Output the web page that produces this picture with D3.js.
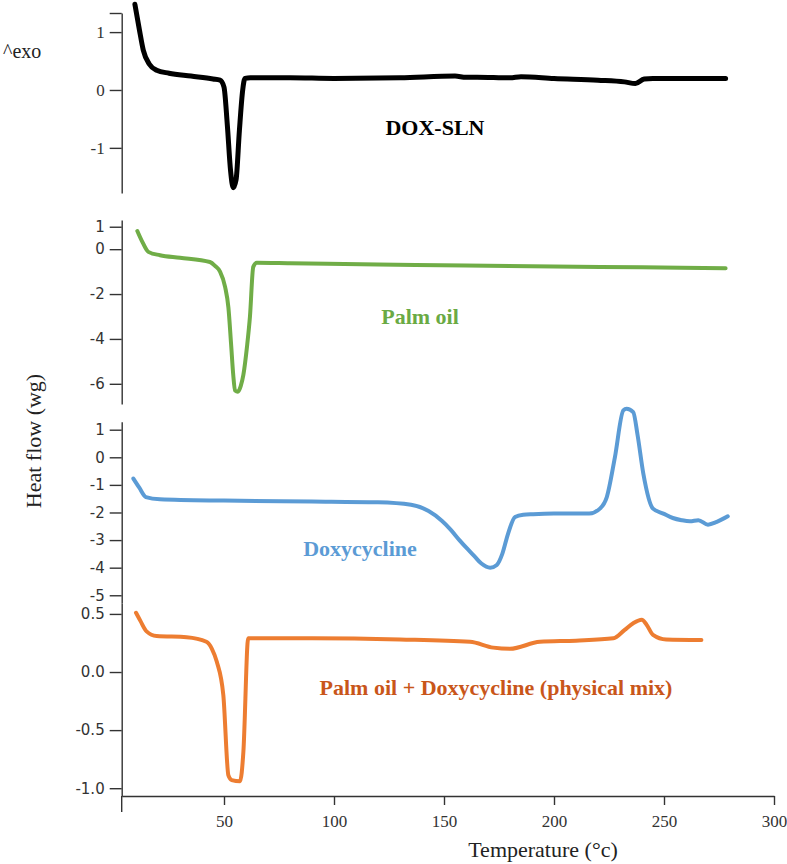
<!DOCTYPE html>
<html lang="en">
<head>
    <meta charset="UTF-8"/>
    <title>DSC thermograms</title>
    <script src="https://d3js.org/d3.v7.min.js"></script>
    <style>
        body { margin: 0; background: #fff; }
        .curve { fill: none; stroke-linejoin: round; stroke-linecap: round; }
        .axis path, .axis line { stroke: #333; stroke-width: 1.4px; }
        .axis text { fill: #333; }
    </style>
</head>
<body>
    <script>
        var w = 787;
        var h = 864;

        // temperatures (°C) and heat flow readings, one pair of arrays per curve
        var doxSlnT = [9.5, 11.5, 13.3, 16, 19.4, 25, 35, 45, 48.2, 50, 51.5, 53, 54.2, 55.5, 57, 58.5, 59.5, 62, 80, 100, 130, 155, 160, 165, 180, 185, 200, 220, 232, 237, 241, 245, 260, 278];
        var doxSlnV = [1.48, 1.05, 0.69, 0.45, 0.34, 0.29, 0.24, 0.19, 0.17, 0.05, -0.6, -1.4, -1.69, -1.55, -0.7, 0.0, 0.2, 0.21, 0.21, 0.2, 0.21, 0.24, 0.22, 0.22, 0.21, 0.23, 0.2, 0.17, 0.14, 0.11, 0.19, 0.2, 0.2, 0.2];

        var palmT = [10.6, 13, 15.6, 20.9, 30, 43.6, 46, 48.2, 50.5, 52, 53.2, 54.2, 55, 56.3, 57.6, 58.8, 60.5, 61.8, 63.3, 64.9, 80, 120, 160, 200, 240, 278];
        var palmV = [0.81, 0.3, -0.12, -0.27, -0.38, -0.57, -0.75, -1.0, -1.68, -2.6, -4.2, -5.6, -6.3, -6.35, -6.1, -5.6, -4.3, -3.0, -0.79, -0.61, -0.63, -0.68, -0.73, -0.77, -0.81, -0.85];

        var doxyT = [8.8, 11.5, 14.5, 20.9, 50, 90, 120, 135, 143, 149, 153, 157, 161, 164, 167, 171, 174, 176.5, 179, 182.3, 186, 190.5, 200, 216, 221, 224, 227.7, 231.5, 233, 236, 238, 240.6, 245, 249.7, 254, 258, 261.8, 265.6, 270, 274, 279];
        var doxyV = [-0.77, -1.1, -1.44, -1.52, -1.57, -1.6, -1.63, -1.72, -1.95, -2.3, -2.62, -3.0, -3.35, -3.6, -3.85, -4.0, -3.9, -3.5, -2.8, -2.16, -2.08, -2.06, -2.04, -2.04, -1.85, -1.44, 0.01, 1.7, 1.76, 1.64, 0.8, -0.59, -1.86, -2.04, -2.2, -2.28, -2.32, -2.28, -2.44, -2.34, -2.14];

        var mixT = [10, 12, 14.8, 19.4, 33, 42, 44.5, 46.7, 49.7, 52, 53.5, 57.3, 58.8, 61, 63, 90, 130, 161.8, 172.4, 180, 193.6, 210, 227, 232, 236, 239.9, 242, 245, 251, 267];
        var mixV = [0.51, 0.44, 0.35, 0.31, 0.3, 0.26, 0.2, 0.09, -0.2, -0.89, -0.93, -0.94, -0.69, 0.29, 0.29, 0.29, 0.28, 0.26, 0.21, 0.2, 0.26, 0.27, 0.29, 0.36, 0.42, 0.45, 0.41, 0.32, 0.28, 0.275];

        var xTicks = [50, 100, 150, 200, 250, 300];

        function intFmt(d) { return String(d); }
        function oneDec(d) { return d.toFixed(1); }

        var panels = [
            { t: doxSlnT, v: doxSlnV, color: "#000000", width: 5, domain: [-1.78, 1.33], range: [193, 13],
              ticks: [1.33, 1, 0, -1], fmt: function(d) { return d === 1.33 ? "" : String(d); },
              font: "Liberation Serif", fs: "17px", label: "DOX-SLN", labelColor: "#000000", lx: 435, ly: 135 },
            { t: palmT, v: palmV, color: "#70ad47", width: 4, domain: [-6.9, 1.3], range: [404, 220],
              ticks: [1, 0, -2, -4, -6], fmt: intFmt,
              font: "DejaVu Sans", fs: "15px", label: "Palm oil", labelColor: "#6aaa44", lx: 420, ly: 324 },
            { t: doxyT, v: doxyV, color: "#5b9bd5", width: 4, domain: [-5.28, 1.29], range: [603, 421.7],
              ticks: [1, 0, -1, -2, -3, -4, -5], fmt: intFmt,
              font: "DejaVu Sans", fs: "15px", label: "Doxycycline", labelColor: "#5b9bd5", lx: 360, ly: 556 },
            { t: mixT, v: mixV, color: "#ed7d31", width: 4, domain: [-1.067, 0.594], range: [796, 603],
              ticks: [0.5, 0, -0.5, -1], fmt: oneDec,
              font: "DejaVu Sans", fs: "15px", label: "Palm oil + Doxycycline (physical mix)", labelColor: "#c9561a", lx: 496, ly: 695 }
        ];

        var xScale = d3.scaleLinear().domain([3.5, 300]).range([121.7, 774]);

        var svg = d3.select("body")
            .append("svg")
            .attr("width", w)
            .attr("height", h);

        panels.forEach(function(p) {
            var yScale = d3.scaleLinear().domain(p.domain).range(p.range);

            var ax = svg.append("g")
                .attr("class", "axis")
                .attr("transform", "translate(121.7,0)")
                .call(d3.axisLeft(yScale).tickValues(p.ticks).tickFormat(p.fmt).tickSize(12).tickSizeOuter(0).tickPadding(5));
            ax.selectAll("text")
                .style("font-family", p.font)
                .style("font-size", p.fs);

            var pts = p.t.map(function(t, i) { return [t, p.v[i]]; });
            var line = d3.line()
                .x(function(d) { return xScale(d[0]); })
                .y(function(d) { return yScale(d[1]); })
                .curve(d3.curveMonotoneX);

            svg.append("path")
                .datum(pts)
                .attr("class", "curve")
                .attr("stroke", p.color)
                .attr("stroke-width", p.width)
                .attr("d", line);

            svg.append("text")
                .attr("x", p.lx)
                .attr("y", p.ly)
                .attr("text-anchor", "middle")
                .style("font-family", "Liberation Serif")
                .style("font-weight", "bold")
                .style("font-size", "22px")
                .style("fill", p.labelColor)
                .text(p.label);
        });

        // extension of the y axis below the temperature axis
        svg.append("line")
            .attr("x1", 121.7).attr("x2", 121.7)
            .attr("y1", 796).attr("y2", 812)
            .attr("stroke", "#333").attr("stroke-width", 1.4);

        // temperature axis
        var xa = svg.append("g")
            .attr("class", "axis")
            .attr("transform", "translate(0,796)")
            .call(d3.axisBottom(xScale).tickValues(xTicks).tickSize(9).tickSizeOuter(0).tickPadding(10));
        xa.selectAll("text")
            .style("font-family", "Liberation Serif")
            .style("font-size", "17px");

        svg.append("text")
            .attr("x", 543)
            .attr("y", 857)
            .attr("text-anchor", "middle")
            .style("font-family", "Liberation Serif")
            .style("font-size", "22px")
            .style("fill", "#222")
            .text("Temperature (°c)");

        svg.append("text")
            .attr("transform", "translate(41,441) rotate(-90)")
            .attr("text-anchor", "middle")
            .style("font-family", "Liberation Serif")
            .style("font-size", "22px")
            .style("fill", "#222")
            .text("Heat flow (wg)");

        svg.append("text")
            .attr("x", 3)
            .attr("y", 58)
            .style("font-family", "Liberation Serif")
            .style("font-size", "20px")
            .style("fill", "#222")
            .text("^exo");
    </script>
</body>
</html>
